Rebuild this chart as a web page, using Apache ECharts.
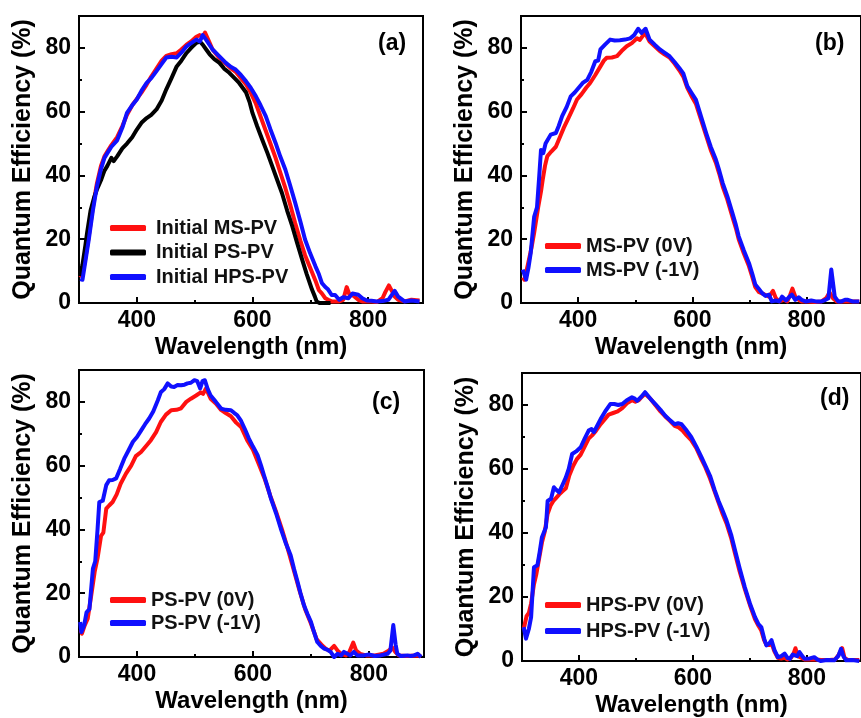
<!DOCTYPE html>
<html style="height: 100%">
<head>
    <meta charset="UTF-8">
    <title>Quantum Efficiency</title>
</head>
<body style="height: 100%; margin: 0; background: #fff">
<div id="container" style="width: 861px; height: 718px"></div>

<script type="text/javascript" src="https://cdn.jsdelivr.net/npm/echarts@6/dist/echarts.min.js"></script>
<script type="text/javascript">
    // [wavelength (nm), QE (%)]
    var a_MS = [[302,8],[306,9],[311,14],[317,21],[324,30],[331,37.5],[338,43],[344,46],[349,47.5],[356,49.5],[366,52],[375,55.5],[383,59],[392,62],[400,64],[408,66],[417,68.5],[425,71],[434,73.5],[443,76],[451,77.5],[460,78],[469,78.3],[477,79.5],[486,81],[494,82],[503,83.5],[509,84],[514,83.5],[518,84.8],[525,82],[531,79.5],[542,77],[554,75],[563,73.5],[571,72.5],[580,70.5],[589,68.5],[597,66],[606,62.5],[614,58.5],[623,54],[631,50],[640,45.5],[648,41],[657,36],[665,31],[674,25],[683,19.5],[691,15],[700,11],[709,7],[715,4],[720,3],[726,1.5],[731,1],[737,0.5],[743,0.5],[750,0.5],[757,1],[763,5],[768,2.5],[773,2.5],[783,1],[790,0.5],[798,0.5],[806,0.5],[815,0.3],[825,1.5],[830,3.5],[836,5.5],[842,3.5],[846,2],[852,1],[863,0.5],[875,1],[889,0.8]];
    var a_PS = [[302,8.4],[306,12],[311,18],[314,22],[320,29],[326,33],[331,35.6],[338,38.5],[344,41.5],[349,43],[356,45.5],[360,44.5],[366,46],[375,48.5],[383,50],[392,52],[400,54.4],[408,56.5],[417,58],[425,59],[434,60.7],[443,63.5],[451,67],[460,70.5],[469,74.2],[477,76],[486,78.4],[494,80],[503,81.6],[509,82],[514,81],[520,79.5],[526,78],[534,76.5],[543,75.3],[551,73.5],[560,72.2],[569,70.5],[577,69],[583,67.5],[589,66],[595,63],[600,59.6],[608,55.5],[617,51.2],[626,47],[634,43],[643,38.5],[651,34.5],[660,29],[669,24],[677,19],[686,13.6],[694,9],[703,4.2],[708,2],[711,0.5],[716,0],[735,0]];
    var a_HPS = [[302,7.5],[306,7.3],[311,13],[317,20],[324,29],[331,36.6],[338,42],[344,45.5],[349,47],[356,49],[366,51],[375,55],[383,59.6],[392,62],[400,63.8],[408,66.5],[417,69],[425,70.5],[434,72.7],[443,75],[451,77],[460,77.2],[469,77],[477,78.5],[486,80.5],[494,81.5],[503,82.6],[509,82],[514,84],[520,82.5],[531,79.5],[542,77.5],[554,75.3],[563,74],[571,73.2],[580,71.5],[589,69.5],[597,67.5],[606,64.8],[614,62],[623,58.6],[631,54.5],[640,50.2],[648,46],[657,41.8],[665,37],[674,31.4],[683,25.5],[691,19.9],[700,15.5],[709,11.5],[715,9],[720,6.3],[726,5],[731,4.2],[737,2.5],[743,2.5],[750,1],[757,1.8],[766,1.5],[773,3],[783,2.6],[790,1.5],[798,0.8],[806,0.7],[815,0.5],[825,0.6],[835,1],[846,3.8],[852,2],[863,0.5],[875,0.8],[889,0.5]];

    var b_0V = [[303,8],[306,7.3],[312,12],[318,17],[323,22],[330,30],[335,35],[338,38.7],[342,43],[346,46],[353,47.5],[361,49],[368,52],[375,55],[383,58],[391,61],[398,63.8],[406,65.5],[414,67.5],[421,69],[430,71.5],[439,74.2],[445,76],[450,76.9],[459,77],[468,77.4],[476,79],[485,80.5],[494,81.5],[503,83],[508,82.5],[511,82.6],[517,84.7],[525,82],[534,80.5],[543,79],[551,78],[560,77],[569,75],[577,73],[584,71],[591,67.5],[598,65],[606,62.5],[615,57.5],[624,52.5],[632,48],[641,44],[647,40.5],[653,36.5],[661,32.5],[670,27],[676,23.5],[681,20],[690,15.5],[699,11.5],[705,8],[710,5],[716,3.5],[722,3],[728,2.5],[734,2],[741,3.8],[746,1.5],[752,0.5],[760,1],[766,0.5],[771,2.5],[775,4.5],[780,2],[786,1],[791,0.5],[800,0.5],[815,0.3],[826,0.5],[834,1.5],[840,3.3],[846,1.5],[852,0.5],[861,0.5],[872,0.5],[892,0.5]];
    var b_1V = [[303,10.5],[309,7.3],[313,11],[317,15.7],[323,27],[328,30],[332,40],[335,48],[339,47],[343,50],[352,52.8],[361,53.3],[366,55.5],[372,58.6],[380,61.5],[387,64.8],[394,66],[401,67.5],[408,69],[416,70],[423,72.5],[430,75.8],[435,76],[439,79.5],[447,81],[456,82.6],[464,82.3],[473,82.4],[482,82.6],[491,83],[498,84],[505,86],[511,84.7],[518,86],[525,82.6],[534,81],[543,79.5],[551,78.5],[560,77.4],[569,75.5],[577,73.7],[584,72],[591,68],[598,66],[606,63.8],[615,58.5],[624,53.3],[632,49],[641,45],[647,41.5],[653,37.6],[661,33.5],[670,28.2],[676,24.5],[681,20.9],[690,16.5],[699,12.5],[705,9],[710,5.8],[716,4.5],[722,3.1],[728,2.2],[734,2.6],[739,0.5],[746,0.8],[752,0.5],[757,2],[764,0.8],[770,2],[774,2.6],[780,1],[786,1.8],[791,1],[798,0.5],[808,0.8],[816,0.5],[826,0.5],[833,1],[838,1.5],[843,10.5],[849,2],[855,0.5],[861,0.5],[867,1],[872,1],[880,0.5],[892,0.5]];

    var c_0V = [[303,8.5],[305,7.3],[310,10],[315,12],[320,18],[327,26.7],[332,31],[338,38],[342,39],[347,46.5],[352,47.5],[358,48.6],[365,51],[372,54.4],[381,57.5],[390,60],[398,63],[407,64.3],[415,66],[424,68],[433,70.5],[441,73.7],[450,76],[459,77.4],[468,77.5],[476,78],[485,80],[493,81],[502,82],[510,83],[514,82.5],[519,84.2],[527,81],[536,79.5],[545,77.5],[553,76.5],[562,75.5],[571,73.5],[580,72],[590,68],[600,65],[610,60.5],[620,56],[630,50.5],[640,45.5],[650,40],[660,34],[670,27.5],[680,21],[690,15],[700,10.5],[710,5.5],[720,3.5],[726,2.5],[732,2],[740,3.5],[746,2],[752,1],[760,0.5],[766,1.5],[773,4.5],[778,2],[785,1],[795,0.5],[810,0.5],[825,1],[834,2],[840,3],[846,1.5],[852,0.5],[865,0.3],[880,0.5],[890,0.3]];
    var c_1V = [[302,11],[304,7.8],[309,10],[313,14],[318,15],[324,27.7],[328,30],[332,40],[335,48.6],[341,49],[347,53.9],[352,55.4],[358,55.5],[364,56],[371,59],[378,62.2],[386,65],[393,67.5],[400,69],[407,71],[414,73],[421,74.8],[428,77],[436,80.5],[441,83],[447,84],[453,85.8],[459,84.8],[464,84.7],[470,85.3],[476,85.2],[482,85.4],[487,85.8],[493,86],[499,86.8],[504,86.5],[509,84.2],[513,86.5],[517,86.8],[522,84],[527,82],[536,80],[545,77.9],[553,77.5],[562,77.4],[568,76.5],[573,75.8],[579,74.2],[586,71.5],[593,68.5],[600,66],[608,63.3],[614,60],[619,57],[625,53.5],[631,49.7],[640,45],[648,40.3],[656,36],[665,31.9],[671,27.5],[677,23.5],[682,20],[688,16.2],[694,13.5],[700,11],[705,8],[711,4.7],[717,3.5],[723,2.6],[729,2.2],[734,1.6],[740,0],[746,1],[752,0.5],[757,1.6],[763,1],[768,0.5],[774,1.6],[780,0.5],[791,0.5],[800,0.8],[810,0.3],[820,0.5],[832,1],[837,2],[842,10],[846,4],[849,1],[855,0.3],[866,0.5],[872,0.3],[878,0.5],[884,1],[890,0]];

    var d_0V = [[303,10],[308,14],[312,15],[316,18],[321,24],[325,27],[330,32],[335,37],[340,40.5],[345,46],[350,48.5],[355,50],[360,51],[365,52],[371,53],[377,54],[383,58],[390,61],[396,63],[403,64.5],[410,67],[417,69.5],[423,70.5],[430,72],[438,74],[445,75.5],[452,77],[460,77.5],[468,78],[476,79],[484,80.5],[493,81.5],[499,81],[505,81.5],[510,82.5],[516,83.5],[525,82],[534,80],[543,78],[551,76.5],[560,75],[568,73.5],[575,73],[582,72],[589,70.5],[597,69],[606,66.5],[615,63],[622,60.5],[630,57],[638,53],[645,49.5],[652,46],[659,43],[667,38.5],[674,33.5],[682,28],[691,22.5],[700,17.5],[709,13],[715,11],[720,9.5],[725,6.5],[729,5],[734,5],[738,5.5],[743,3],[749,1],[755,0.8],[761,1],[766,0.5],[772,1],[776,2],[780,4],[784,1.5],[790,1],[796,0.5],[805,0.5],[815,0.5],[825,0.3],[840,0.3],[850,0.5],[856,2],[862,4],[866,1],[872,0.3],[892,0.3]];
    var d_1V = [[303,10.6],[307,7],[312,10],[316,13.7],[321,29.3],[327,29.9],[331,34],[335,38.7],[338,40],[342,41.8],[345,50],[351,50.7],[356,54.3],[360,53.5],[365,52.7],[371,55],[377,57.4],[382,60],[388,64.7],[395,65.5],[403,66.8],[410,69.5],[417,72],[422,72.5],[426,71.5],[432,73.5],[438,75.6],[446,78],[455,80.3],[462,80.3],[469,80],[476,80.3],[484,81.5],[493,82.4],[498,82],[502,81.3],[509,82.5],[516,84],[525,82],[534,80.3],[543,78.5],[551,76.7],[560,75.2],[568,74],[574,74.3],[580,74],[589,72],[597,70],[606,67],[615,63.7],[622,61],[630,57.9],[638,53.5],[645,50],[652,47],[659,43.9],[667,39.5],[674,34.5],[682,29],[691,23.1],[700,18],[709,13.7],[715,11.5],[720,10.6],[725,7],[729,4.9],[734,5.5],[738,6.5],[743,3.5],[749,1.2],[755,1.5],[761,2.3],[766,1],[770,0.7],[775,2],[778,2.3],[783,1.5],[787,2.8],[792,1.5],[796,0.7],[805,0.8],[813,1.2],[818,0.5],[824,0],[835,0.3],[848,0.2],[855,1.5],[860,3.8],[864,1.5],[869,0.2],[880,0.3],[892,0]];

    var xLabels = [400, 600, 800];
    var xMinor = [500, 700];
    var yLabels = [0, 20, 40, 60, 80];
    var yMinor = [10, 30, 50, 70];
    var panelTags = ['(a)', '(b)', '(c)', '(d)'];

    var FONT = 'Liberation Sans, Arial, sans-serif';
    var RED = '#ff1010', BLUE = '#1010ff', BLACK = '#000000';

    // grid boxes in pixels
    var boxes = [
        {left: 79, top: 16, width: 344, height: 287},
        {left: 521, top: 16, width: 344, height: 287},
        {left: 79, top: 370, width: 345, height: 287},
        {left: 522, top: 373, width: 344, height: 289}
    ];
    var panels = [
        [['Initial MS-PV', a_MS, RED], ['Initial PS-PV', a_PS, BLACK], ['Initial HPS-PV', a_HPS, BLUE]],
        [['MS-PV (0V)', b_0V, RED], ['MS-PV (-1V)', b_1V, BLUE]],
        [['PS-PV (0V)', c_0V, RED], ['PS-PV (-1V)', c_1V, BLUE]],
        [['HPS-PV (0V)', d_0V, RED], ['HPS-PV (-1V)', d_1V, BLUE]]
    ];
    var legendPos = [
        {left: 110, top: 218, itemGap: 4.5, pad: 5},
        {left: 545, top: 236, itemGap: 4, pad: 0},
        {left: 110, top: 590, itemGap: 3, pad: 0},
        {left: 545, top: 595, itemGap: 6, pad: 0}
    ];
    var tagPos = [[378, 32], [815, 32], [372, 391], [820, 387]];

    var grids = [], xAxes = [], yAxes = [], series = [], legends = [], graphics = [];

    boxes.forEach(function (b, i) {
        grids.push({
            left: b.left, top: b.top, width: b.width, height: b.height,
            show: true, borderColor: '#000', borderWidth: 2, containLabel: false
        });
        // major x axis
        xAxes.push({
            type: 'value', gridIndex: i, min: 300, max: 895,
            name: 'Wavelength (nm)', nameLocation: 'middle', nameGap: 32,
            nameTextStyle: {fontFamily: FONT, fontSize: 24, fontWeight: 'bold', color: '#000'},
            axisLine: {show: true, onZero: false, lineStyle: {color: '#000', width: 2}},
            axisTick: {show: true, inside: true, length: 6, lineStyle: {color: '#000', width: 2}, customValues: xLabels},
            axisLabel: {customValues: xLabels, margin: 6, fontFamily: FONT, fontSize: 23, fontWeight: 'bold', color: '#000'},
            splitLine: {show: false}
        });
        // minor x ticks
        xAxes.push({
            type: 'value', gridIndex: i, min: 300, max: 895, position: 'bottom',
            axisLine: {show: false, onZero: false},
            axisTick: {show: true, inside: true, length: 3, lineStyle: {color: '#000', width: 2}, customValues: xMinor},
            axisLabel: {show: false},
            splitLine: {show: false}
        });
        yAxes.push({
            type: 'value', gridIndex: i, min: 0, max: 90,
            name: 'Quantum Efficiency (%)', nameLocation: 'middle', nameGap: 43, nameRotate: 90,
            nameTextStyle: {fontFamily: FONT, fontSize: 25, fontWeight: 'bold', color: '#000'},
            axisLine: {show: true, onZero: false, lineStyle: {color: '#000', width: 2}},
            axisTick: {show: true, inside: true, length: 6, lineStyle: {color: '#000', width: 2}, customValues: yLabels},
            axisLabel: {customValues: yLabels, margin: 8, fontFamily: FONT, fontSize: 23, fontWeight: 'bold', color: '#000'},
            splitLine: {show: false}
        });
        yAxes.push({
            type: 'value', gridIndex: i, min: 0, max: 90, position: 'left',
            axisLine: {show: false, onZero: false},
            axisTick: {show: true, inside: true, length: 3, lineStyle: {color: '#000', width: 2}, customValues: yMinor},
            axisLabel: {show: false},
            splitLine: {show: false}
        });

        var names = [];
        panels[i].forEach(function (s) {
            names.push(s[0]);
            series.push({
                name: s[0], type: 'line', xAxisIndex: i * 2, yAxisIndex: i * 2,
                data: s[1], showSymbol: false, symbol: 'none', clip: true,
                lineStyle: {color: s[2], width: 4, join: 'round'},
                itemStyle: {color: s[2]}
            });
        });
        legends.push({
            data: names, orient: 'vertical', left: legendPos[i].left, top: legendPos[i].top,
            itemGap: legendPos[i].itemGap, itemWidth: 36, itemHeight: 6, icon: 'roundRect', padding: 0,
            textStyle: {fontFamily: FONT, fontSize: 20, fontWeight: 'bold', color: '#111', lineHeight: 20,
                padding: [0, 0, 0, legendPos[i].pad]},
            selectedMode: false
        });
        graphics.push({
            type: 'text', left: tagPos[i][0], top: tagPos[i][1],
            style: {text: panelTags[i], font: 'bold 23px ' + FONT, fill: '#000'}
        });
    });

    var myChart = echarts.init(document.getElementById('container'), null, {renderer: 'canvas'});
    var option = {
        animation: false,
        backgroundColor: '#fff',
        grid: grids,
        xAxis: xAxes,
        yAxis: yAxes,
        legend: legends,
        series: series,
        graphic: graphics
    };
    myChart.setOption(option);
</script>
</body>
</html>
